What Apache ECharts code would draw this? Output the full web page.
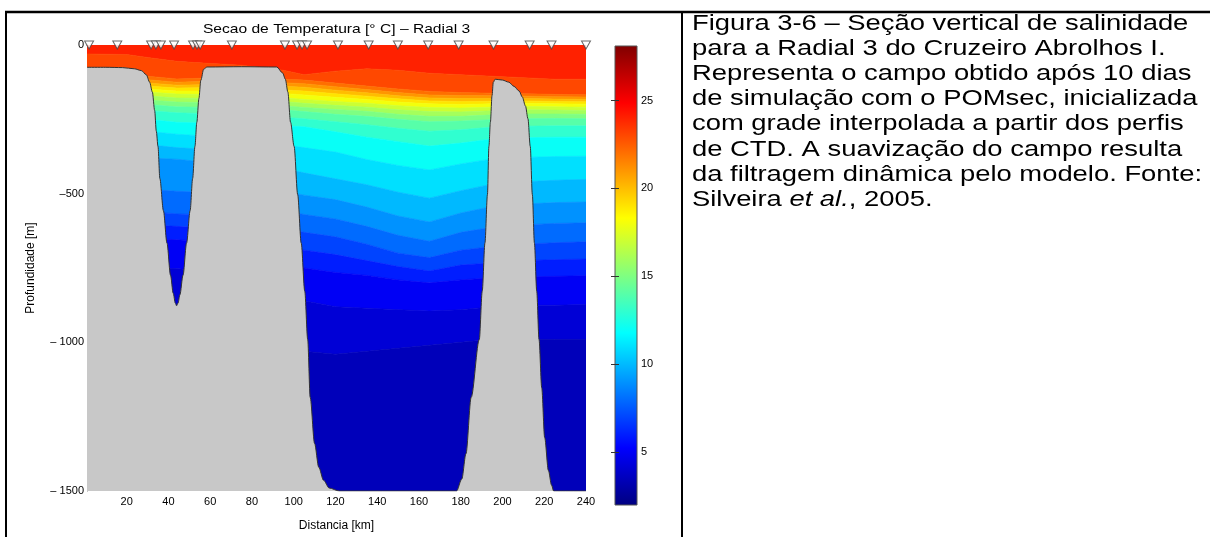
<!DOCTYPE html>
<html>
<head>
<meta charset="utf-8">
<title>Secao de Temperatura - Radial 3</title>
<script src="https://cdn.jsdelivr.net/npm/echarts@6/dist/echarts.min.js"></script>
<style>
  html, body { margin: 0; padding: 0; background: #fff; }
  #chart { width: 1210px; height: 537px; }
</style>
</head>
<body>
<div id="chart"></div>
<script>
const FONT = 'Liberation Sans, Arial, Helvetica, sans-serif'

// CTD stations along the section (km)
const stationKm = [2, 15.5, 31.7, 34, 36.4, 42.7, 51.8, 53.7, 55.2, 70.4, 95.8, 101.6, 104, 106.4, 121.2, 135.9, 149.9, 164.4, 179, 195.7, 213, 223.5, 240]

// bottom profile: distance (km) and depth (m, positive down)
const bottomKm = [1, 10, 18, 23.7, 27, 29.4, 31, 32.3, 33.4, 34.2, 35, 35.9, 37.6, 39.3, 41, 42.3, 43.3, 43.9, 44.6, 45.5, 47, 48.7, 50.4, 51.6, 52.7, 53.6, 54.6, 55.5, 56.9, 58.5, 75, 91.9, 94.7, 96, 97.2, 98.5, 100.2, 101.9, 103.6, 105.3, 106.7, 107.9, 110, 112, 114.3, 117, 121.8, 178, 180.5, 182.5, 185, 188.9, 190.3, 191.6, 192.8, 193.5, 194.2, 195, 195.6, 196.5, 200, 203, 205.5, 208, 209.5, 211, 212.2, 213.3, 214.3, 215.3, 216.4, 217.5, 218.8, 220.2, 222, 223.5, 224.5, 240]
const bottomDepth = [75, 75, 76, 80, 86, 100, 125, 158, 220, 290, 341, 449, 557, 666, 774, 835, 868, 877, 868, 840, 774, 666, 557, 449, 341, 260, 180, 119, 81, 74, 73, 74, 94, 115, 158, 260, 341, 503, 666, 828, 990, 1185, 1340, 1420, 1464, 1490, 1500, 1500, 1460, 1375, 1185, 990, 828, 666, 503, 341, 260, 170, 125, 115, 118, 125, 139, 155, 175, 205, 248, 341, 503, 666, 828, 990, 1153, 1320, 1431, 1480, 1500, 1500]

// filled temperature bands, surface to bottom (deg C)
const bandTemp = [24, 23, 22, 21, 20, 19, 18, 17, 16, 15, 14, 13, 12, 11, 10, 9, 8, 7, 6, 5, 4.2, 3.5]
// columns where the band limits were read (km)
const columnKm = [1, 20, 30, 44, 55, 75, 95, 105, 120, 135, 150, 165, 180, 195, 210, 225, 240]
// depth (m) of the limit under each band, one list per column
const columnLimits = [
  [30, 85, 98, 111, 124, 137, 150, 163, 176, 190, 210, 240, 290, 350, 420, 500, 580, 660, 740, 830, 990],
  [32, 88, 100, 113, 125, 138, 151, 164, 177, 190, 210, 240, 290, 350, 415, 495, 575, 650, 730, 820, 985],
  [42, 105, 117, 128, 138, 148, 158, 171, 185, 200, 220, 250, 290, 335, 380, 485, 560, 605, 650, 750, 950],
  [55, 114, 125, 135, 145, 155, 165, 178, 192, 208, 228, 260, 300, 345, 384, 492, 568, 610, 655, 752, 950],
  [60, 112, 123, 134, 144, 155, 166, 179, 193, 209, 230, 262, 305, 350, 392, 495, 570, 615, 660, 760, 960],
  [68, 110, 122, 134, 145, 157, 169, 182, 196, 212, 235, 268, 320, 380, 440, 520, 585, 640, 695, 790, 980],
  [85, 115, 127, 139, 151, 163, 177, 190, 204, 218, 243, 272, 335, 415, 490, 555, 615, 675, 735, 850, 1020],
  [100, 118, 130, 142, 155, 168, 183, 196, 210, 224, 248, 275, 345, 430, 505, 570, 630, 690, 750, 860, 1030],
  [88, 128, 140, 152, 164, 176, 190, 203, 217, 233, 258, 292, 360, 450, 520, 585, 645, 705, 765, 880, 1040],
  [80, 138, 150, 161, 172, 183, 196, 209, 223, 240, 268, 310, 385, 470, 545, 610, 670, 725, 775, 885, 1030],
  [85, 148, 160, 171, 181, 192, 204, 218, 233, 250, 280, 325, 405, 495, 575, 640, 700, 745, 790, 890, 1020],
  [95, 156, 168, 178, 188, 198, 210, 224, 240, 258, 290, 340, 420, 515, 595, 660, 715, 760, 800, 895, 1010],
  [100, 160, 170, 180, 190, 200, 212, 225, 240, 256, 285, 330, 400, 490, 565, 630, 690, 740, 790, 890, 1000],
  [105, 162, 171, 180, 189, 198, 209, 221, 235, 251, 276, 316, 383, 468, 543, 613, 678, 733, 783, 880, 990],
  [110, 164, 172, 180, 188, 196, 206, 218, 232, 248, 273, 312, 378, 460, 535, 605, 670, 725, 780, 875, 990],
  [115, 166, 174, 182, 190, 198, 208, 219, 232, 247, 272, 310, 375, 455, 530, 600, 665, 722, 778, 875, 990],
  [115, 167, 175, 183, 191, 199, 209, 220, 233, 248, 272, 310, 374, 452, 528, 598, 662, 720, 776, 873, 990],
]

const xTicks = [20, 40, 60, 80, 100, 120, 140, 160, 180, 200, 220, 240]
const yTicks = [0, -500, -1000, -1500]
const yTickLabels = ['0', '\u2013500', '\u2013 1000', '\u2013 1500']
const cbTicks = [5, 10, 15, 20, 25]
const cbMin = 2.0
const cbMax = 28.1
// jet colormap
const jetColors = ['#000080', '#0000FF', '#0080FF', '#00FFFF', '#80FF80', '#FFFF00', '#FF8000', '#FF0000', '#800000']

const captionLines = [
  'Figura 3-6 \u2013 Se\u00e7\u00e3o vertical de salinidade',
  'para a Radial 3 do Cruzeiro Abrolhos I.',
  'Representa o campo obtido ap\u00f3s 10 dias',
  'de simula\u00e7\u00e3o com o POMsec, inicializada',
  'com grade interpolada a partir dos perfis',
  'de CTD. A suaviza\u00e7\u00e3o do campo resulta',
  'da filtragem din\u00e2mica pelo modelo. Fonte:',
  'Silveira {i|et al.}, 2005.',
]

const PLOT = { left: 87, top: 45, width: 499, height: 462 }
const CBAR = { left: 615, top: 46, width: 22, height: 459 }

const chart = echarts.init(document.getElementById('chart'))

const bandSeries = {
  type: 'custom',
  xAxisIndex: 0,
  yAxisIndex: 0,
  clip: true,
  z: 1,
  silent: true,
  data: bandTemp.map((t, i) => [i, t]),
  renderItem: (params, api) => {
    const k = api.value(0)
    const pts = []
    columnKm.forEach((km, j) => {
      const d = k === 0 ? 0 : columnLimits[j][k - 1]
      pts.push(api.coord([km, -d]))
    })
    for (let j = columnKm.length - 1; j >= 0; j--) {
      const d = k === bandTemp.length - 1 ? 1500 : columnLimits[j][k]
      pts.push(api.coord([columnKm[j], -d]))
    }
    const c = api.visual('color')
    return { type: 'polygon', shape: { points: pts }, style: { fill: c, stroke: c, lineWidth: 0.6 } }
  },
}

const bottomSeries = {
  type: 'line',
  xAxisIndex: 0,
  yAxisIndex: 0,
  z: 5,
  silent: true,
  symbol: 'none',
  smooth: 0.3,
  smoothMonotone: 'x',
  data: bottomKm.map((km, i) => [km, -bottomDepth[i]]),
  lineStyle: { color: '#333', width: 1 },
  areaStyle: { color: '#C8C8C8', opacity: 1, origin: 'start' },
}

const stationSeries = {
  type: 'scatter',
  xAxisIndex: 0,
  yAxisIndex: 0,
  z: 10,
  clip: false,
  silent: true,
  symbol: 'triangle',
  symbolRotate: 180,
  symbolSize: [9, 8],
  data: stationKm.map((km) => [km, 0]),
  itemStyle: { color: '#fff', borderColor: '#444', borderWidth: 1 },
}

const colorbarSeries = {
  type: 'custom',
  xAxisIndex: 1,
  yAxisIndex: 1,
  z: 2,
  silent: true,
  data: [[0]],
  renderItem: (params, api) => {
    const p0 = api.coord([0, cbMin])
    const p1 = api.coord([1, cbMax])
    const stops = jetColors.map((c, i) => ({ offset: i / (jetColors.length - 1), color: c }))
    return {
      type: 'rect',
      shape: { x: p0[0], y: p1[1], width: p1[0] - p0[0], height: p0[1] - p1[1] },
      style: { fill: new echarts.graphic.LinearGradient(0, 1, 0, 0, stops), stroke: '#555', lineWidth: 1 },
    }
  },
}

const axisText = { fontFamily: FONT, fontSize: 11, color: '#000' }

const option = {
  backgroundColor: '#fff',
  animation: false,
  grid: [
    { left: PLOT.left, top: PLOT.top, width: PLOT.width, height: PLOT.height },
    { left: CBAR.left, top: CBAR.top, width: CBAR.width, height: CBAR.height },
  ],
  xAxis: [
    {
      type: 'value', gridIndex: 0, min: 1, max: 240,
      axisLine: { show: true, lineStyle: { color: '#777' } },
      axisTick: { show: false },
      splitLine: { show: false },
      axisLabel: { ...axisText, margin: 5, customValues: xTicks },
      name: 'Distancia [km]', nameLocation: 'middle', nameGap: 29,
      nameTextStyle: { fontFamily: FONT, fontSize: 12, color: '#000' },
    },
    { type: 'value', gridIndex: 1, min: 0, max: 1, show: false },
  ],
  yAxis: [
    {
      type: 'value', gridIndex: 0, min: -1500, max: 0, interval: 500,
      axisLine: { show: true, lineStyle: { color: '#777' } },
      axisTick: { show: false },
      splitLine: { show: false },
      axisLabel: {
        ...axisText, margin: 3, customValues: yTicks,
        formatter: (v) => yTickLabels[yTicks.indexOf(v)],
      },
      name: 'Profundidade [m]', nameLocation: 'middle', nameGap: 50, nameRotate: 90,
      nameTextStyle: { fontFamily: FONT, fontSize: 12, color: '#000' },
    },
    {
      type: 'value', gridIndex: 1, min: cbMin, max: cbMax, position: 'right', z: 10,
      axisLine: { show: false },
      axisTick: { show: true, inside: true, length: 4, customValues: cbTicks, lineStyle: { color: '#333' } },
      splitLine: { show: false },
      axisLabel: { ...axisText, margin: 4, customValues: cbTicks },
    },
    {
      type: 'value', gridIndex: 1, min: cbMin, max: cbMax, position: 'left', z: 10,
      axisLine: { show: false },
      axisTick: { show: true, inside: true, length: 4, customValues: cbTicks, lineStyle: { color: '#333' } },
      splitLine: { show: false },
      axisLabel: { show: false },
    },
  ],
  visualMap: {
    show: false, type: 'continuous', seriesIndex: 0, dimension: 1,
    min: cbMin, max: cbMax, inRange: { color: jetColors },
  },
  graphic: [
    { type: 'line', shape: { x1: 5, y1: 12, x2: 1210, y2: 12 }, style: { stroke: '#000', lineWidth: 2.5 } },
    { type: 'line', shape: { x1: 6, y1: 12, x2: 6, y2: 537 }, style: { stroke: '#000', lineWidth: 2 } },
    { type: 'line', shape: { x1: 682, y1: 12, x2: 682, y2: 537 }, style: { stroke: '#000', lineWidth: 2 } },
    {
      type: 'text', x: PLOT.left + PLOT.width / 2, y: 29, scaleX: 1.2,
      style: { text: 'Secao de Temperatura [\u00b0 C] \u2013 Radial 3', font: '13px ' + FONT, fill: '#000', textAlign: 'center', textVerticalAlign: 'middle' },
    },
    ...captionLines.map((line, i) => ({
      type: 'text', x: 692, y: 24 + i * 25.1, scaleX: 1.245,
      style: {
        text: line, font: '22px ' + FONT, fill: '#000', textVerticalAlign: 'middle',
        rich: { i: { fontStyle: 'italic', fontSize: 22, fontFamily: FONT } },
      },
    })),
  ],
  series: [bandSeries, bottomSeries, stationSeries, colorbarSeries],
}

chart.setOption(option)
</script>
</body>
</html>
